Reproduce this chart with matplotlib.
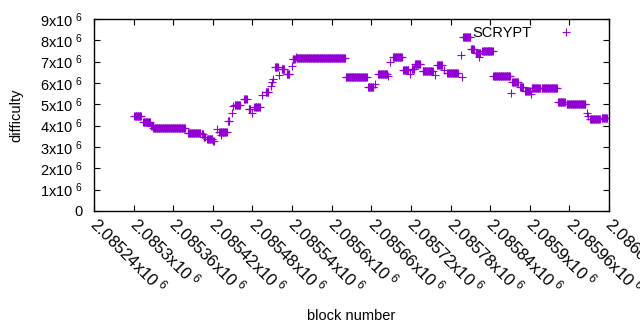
import matplotlib
matplotlib.use('Agg')
import matplotlib.pyplot as plt
import numpy as np

plt.rcParams['font.family'] = ['Liberation Sans', 'DejaVu Sans']
plt.rcParams['mathtext.fontset'] = 'custom'
plt.rcParams['mathtext.rm'] = 'Liberation Sans'
plt.rcParams['mathtext.default'] = 'rm'

# difficulty plateaus: first block, last block, difficulty
plateau_start = [2085301, 2085314, 2085327, 2085330, 2085382, 2085403, 2085406, 2085411,
                 2085420, 2085430, 2085443, 2085453, 2085467, 2085474, 2085483, 2085500,
                 2085514, 2085524, 2085532, 2085541, 2085547, 2085621, 2085655, 2085670,
                 2085693, 2085708, 2085721, 2085726, 2085738, 2085760, 2085775, 2085799,
                 2085811, 2085818, 2085828, 2085845, 2085873, 2085885, 2085893, 2085903,
                 2085918, 2085943, 2085956, 2085991, 2086009]
plateau_end = [2085311, 2085325, 2085329, 2085378, 2085401, 2085405, 2085408, 2085419,
               2085421, 2085441, 2085445, 2085461, 2085471, 2085477, 2085491, 2085504,
               2085518, 2085528, 2085536, 2085544, 2085620, 2085653, 2085663, 2085684,
               2085706, 2085716, 2085725, 2085734, 2085753, 2085767, 2085791, 2085810,
               2085815, 2085825, 2085844, 2085870, 2085882, 2085890, 2085900, 2085915,
               2085941, 2085953, 2085984, 2086006, 2086017]
plateau_diff = [4.45e6, 4.17e6, 4.00e6, 3.89e6, 3.67e6, 3.60e6, 3.47e6, 3.37e6,
                3.30e6, 3.70e6, 4.22e6, 4.97e6, 5.25e6, 4.78e6, 4.88e6, 5.57e6,
                6.75e6, 6.66e6, 6.42e6, 7.12e6, 7.16e6, 6.27e6, 5.81e6, 6.42e6,
                7.22e6, 6.61e6, 6.66e6, 6.89e6, 6.56e6, 6.84e6, 6.47e6, 8.15e6,
                7.60e6, 7.40e6, 7.50e6, 6.35e6, 6.04e6, 5.81e6, 5.63e6, 5.76e6,
                5.76e6, 5.12e6, 5.00e6, 4.30e6, 4.35e6]

# single outlying blocks
single_block = [2085426, 2085432, 2085449, 2085451, 2085479, 2085494, 2085508, 2085510,
                2085511, 2085520, 2085540, 2085546, 2085666, 2085685, 2085688, 2085719,
                2085756, 2085770, 2085796, 2085797, 2085823, 2085872, 2085902, 2085987,
                2085988]
single_diff = [3.84e6, 3.56e6, 4.60e6, 4.90e6, 4.60e6, 5.44e6, 5.86e6, 6.05e6,
               6.20e6, 6.38e6, 6.80e6, 7.22e6, 5.95e6, 6.33e6, 6.98e6, 6.42e6,
               6.38e6, 6.60e6, 7.30e6, 6.27e6, 7.20e6, 5.52e6, 5.48e6, 4.60e6,
               4.45e6]

blocks = []
diffs = []
for s, e, d in zip(plateau_start, plateau_end, plateau_diff):
    b = np.arange(s, e + 1)
    blocks.append(b)
    diffs.append(np.full(len(b), d))
blocks = np.concatenate(blocks + [np.array(single_block)])
diffs = np.concatenate(diffs + [np.array(single_diff)])

fig = plt.figure(figsize=(6.4, 3.3), dpi=100)
ax = fig.add_axes([94 / 640, 1 - 211 / 330, 515 / 640, 192 / 330])

ax.plot(blocks, diffs, linestyle='none', marker='+', color='#9400d3',
        markersize=5.2, markeredgewidth=0.8, label='SCRYPT')

ax.set_xlim(2085240, 2086020)
ax.set_ylim(0, 9e6)

xt = np.arange(2085240, 2086021, 60)
ax.set_xticks(xt)
ax.set_xticklabels([f'{v / 1e6:g}x10$^{{\\ 6}}$' for v in xt], rotation=-45,
                   ha='left', va='center', rotation_mode='anchor', fontsize=12)
yt = np.arange(0, 10) * 1e6
ax.set_yticks(yt)
ax.set_yticklabels(['0'] + [f'{i}x10$^{{\\ 6}}$' for i in range(1, 10)], fontsize=10.5)

ax.tick_params(direction='in', top=True, right=True, length=4, width=0.8,
               colors='black')
ax.tick_params(axis='y', pad=8)
ax.tick_params(axis='x', pad=7)
for sp in ax.spines.values():
    sp.set_linewidth(1.0)

ax.set_xlabel('block number', fontsize=10.5, labelpad=8)
ax.set_ylabel('difficulty', fontsize=10.5, labelpad=12)

ax.legend(loc='upper right', bbox_to_anchor=(0.959, 0.965), markerfirst=False,
          frameon=False, fontsize=10.5, handlelength=3, handletextpad=0.9,
          borderaxespad=0, borderpad=0)

fig.savefig('out.png', dpi=100)
